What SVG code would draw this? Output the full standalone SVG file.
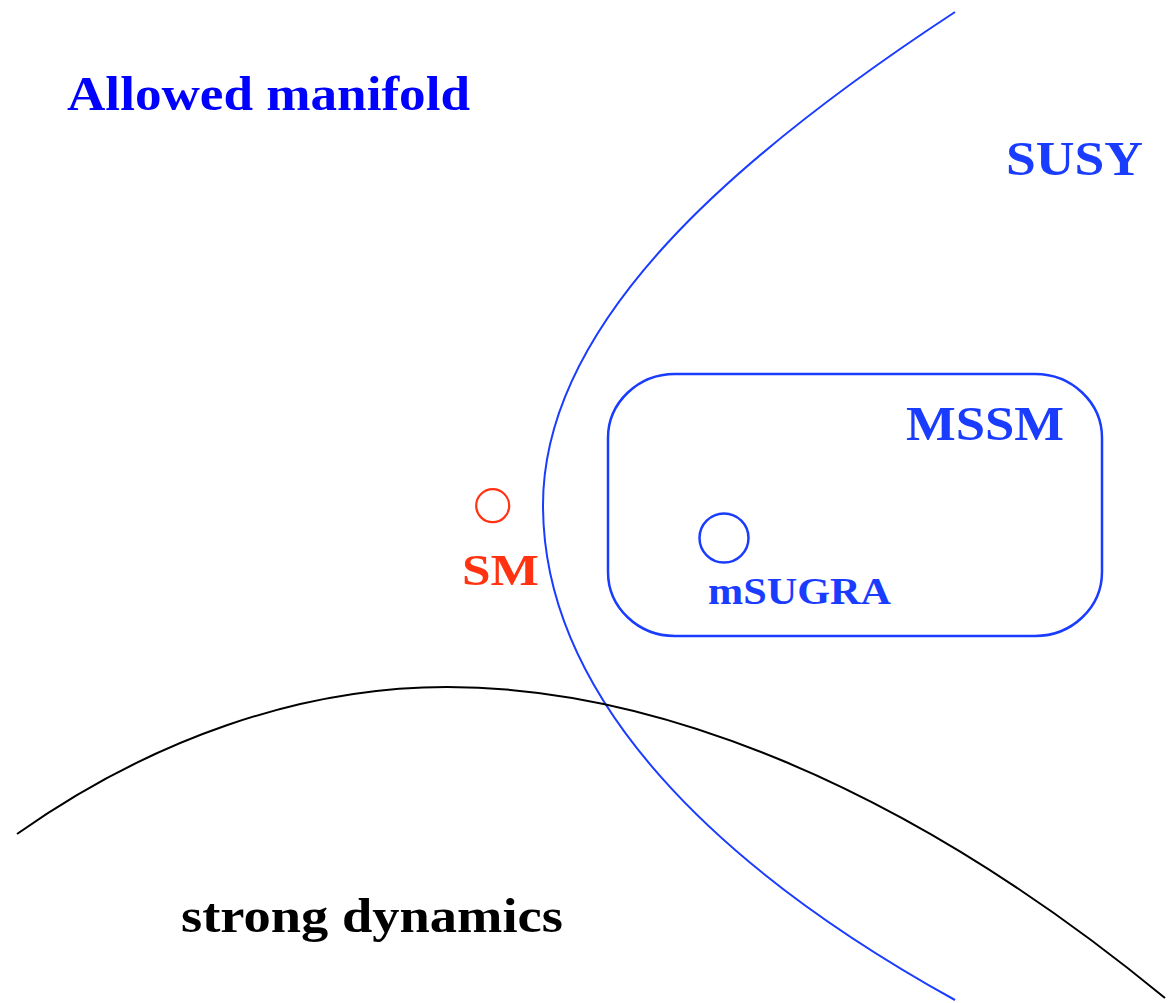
<svg xmlns="http://www.w3.org/2000/svg" width="1168" height="1003" viewBox="0 0 1168 1003">
  <style>
    .lbl { font-family: "Liberation Serif", "Times New Roman", serif; font-weight: bold; }
    .blue { fill: #1a3cff; }
    .pure { fill: #0000ff; }
    .red { fill: #ff3311; }
    .blk { fill: #000000; }
    .curve { fill: none; stroke-width: 2; }
  </style>
  <rect width="1168" height="1003" fill="#ffffff"/>
  <g id="connectors">
    <path id="susy-boundary" class="curve" stroke="#1a3cff" d="M955,12 C740,153 543,320 543,505 C543,700 720,870 955,1000"/>
    <path id="strong-boundary" class="curve" stroke="#000000" d="M17,834 C150,740 300,687 447,687 C650,687 900,780 1165,998"/>
  </g>
  <g id="allowed-manifold">
    <text class="lbl pure" x="67" y="110" font-size="48" textLength="403" lengthAdjust="spacingAndGlyphs">Allowed manifold</text>
  </g>
  <g id="susy">
    <text class="lbl blue" x="1006" y="175" font-size="48" textLength="137" lengthAdjust="spacingAndGlyphs">SUSY</text>
  </g>
  <g id="mssm">
    <rect x="608" y="374" width="494" height="262" rx="67" ry="64" fill="none" stroke="#1a3cff" stroke-width="2.5"/>
    <text class="lbl blue" x="906" y="440" font-size="48" textLength="158" lengthAdjust="spacingAndGlyphs">MSSM</text>
  </g>
  <g id="msugra">
    <circle cx="724" cy="538" r="24.5" fill="none" stroke="#1a3cff" stroke-width="2.5"/>
    <text class="lbl blue" x="708" y="604" font-size="37" textLength="183" lengthAdjust="spacingAndGlyphs">mSUGRA</text>
  </g>
  <g id="sm">
    <circle cx="492.7" cy="505.7" r="16.5" fill="none" stroke="#ff3311" stroke-width="2.2"/>
    <text class="lbl red" x="462" y="585" font-size="45" textLength="77" lengthAdjust="spacingAndGlyphs">SM</text>
  </g>
  <g id="strong-dynamics">
    <text class="lbl blk" x="181" y="932" font-size="48" textLength="382" lengthAdjust="spacingAndGlyphs">strong dynamics</text>
  </g>
</svg>
